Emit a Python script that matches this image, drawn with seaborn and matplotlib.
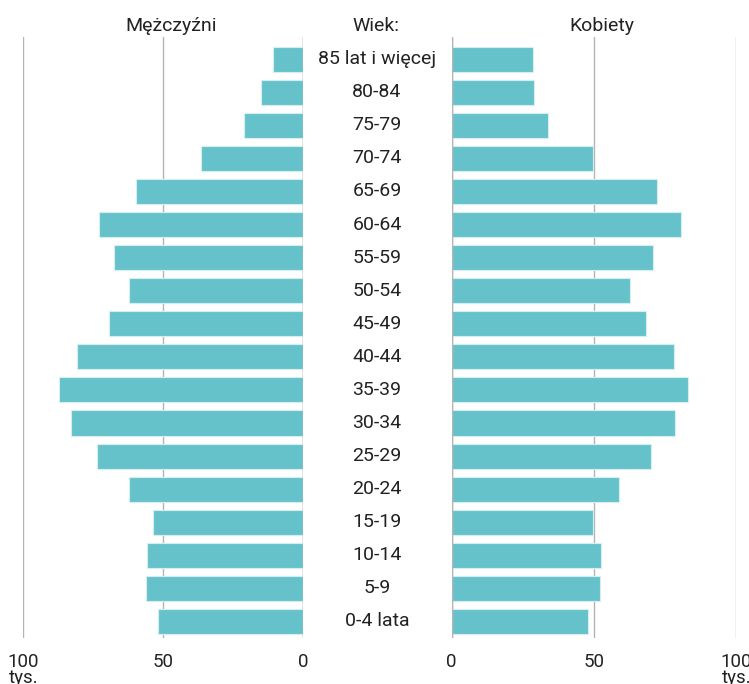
import matplotlib
matplotlib.use("Agg")
import matplotlib.pyplot as plt
import seaborn as sns
import pandas as pd

# age groups, top to bottom
ages = ["85 lat i więcej", "80-84", "75-79", "70-74", "65-69", "60-64", "55-59",
        "50-54", "45-49", "40-44", "35-39", "30-34", "25-29", "20-24", "15-19",
        "10-14", "5-9", "0-4 lata"]

# thousands of people
men = [10.9, 15.0, 21.1, 36.6, 59.6, 73.1, 67.5, 62.1, 69.3, 80.9, 87.4, 83.0,
       73.8, 62.1, 53.6, 55.7, 56.2, 51.9]
women = [28.5, 29.0, 33.7, 49.6, 72.3, 80.4, 70.7, 62.7, 68.4, 78.0, 83.1, 78.6,
         70.0, 58.8, 49.7, 52.3, 52.2, 47.8]

tick_vals = [0, 50, 100]
tick_labels = ["0", "50", "100\ntys."]

df = pd.DataFrame({"wiek": ages, "M": men, "K": women})

sns.set_theme(style="white")
plt.rcParams["font.family"] = ["Roboto", "DejaVu Sans"]

bar_col = "#66c2ca"
grid_col = "#b4b4b4"
W, H = 749, 684

fig = plt.figure(figsize=(W / 100, H / 100), dpi=100)
top, bot = 37, 638
ax1 = fig.add_axes([23.3 / W, 1 - bot / H, 280 / W, (bot - top) / H])
ax2 = fig.add_axes([451.7 / W, 1 - bot / H, 284.6 / W, (bot - top) / H])

for ax, col in [(ax1, "M"), (ax2, "K")]:
    for v in tick_vals:
        ax.axvline(v, color=grid_col, lw=1, zorder=0)
    sns.barplot(data=df, x=col, y="wiek", orient="h", color=bar_col, width=0.76,
                edgecolor="#d6eef0", linewidth=0.8, saturation=1, ax=ax, zorder=2)
    ax.axvline(0, color=grid_col, lw=1, zorder=3)
    ax.set_xlim(0, 100)
    ax.set_ylim(17.5, -0.67)
    ax.set_xticks(tick_vals)
    ax.set_xticklabels(tick_labels, fontsize=13.5, color="#222222", linespacing=0.85)
    ax.tick_params(axis="x", length=0, pad=11)
    ax.set_yticks([])
    ax.set_xlabel("")
    ax.set_ylabel("")
    for s in ax.spines.values():
        s.set_visible(False)
    ax.set_facecolor("none")

ax1.invert_xaxis()

# age labels in the middle column
for i, a in enumerate(ages):
    ax1.text(1.263, i, a, transform=ax1.get_yaxis_transform(), ha="center",
             va="center", fontsize=14, color="#222222")

fig.text(171 / W, 1 - 26 / H, "Mężczyźni", ha="center", va="center", fontsize=14, color="#222222")
fig.text(376 / W, 1 - 26 / H, "Wiek:", ha="center", va="center", fontsize=14, color="#222222")
fig.text(602 / W, 1 - 26 / H, "Kobiety", ha="center", va="center", fontsize=14, color="#222222")

fig.savefig("out.png", dpi=100, facecolor="white")
